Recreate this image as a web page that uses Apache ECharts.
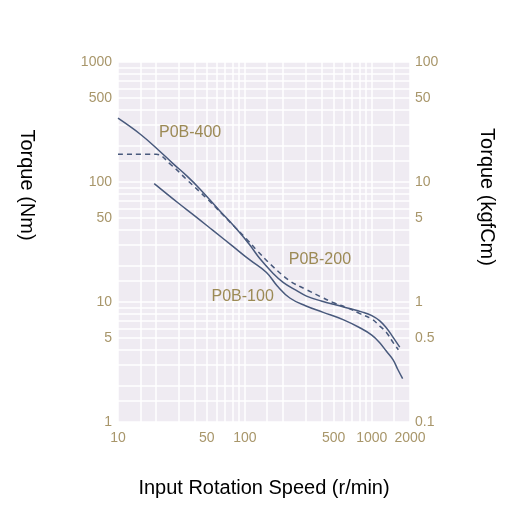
<!DOCTYPE html>
<html><head><meta charset="utf-8">
<script src="https://cdn.jsdelivr.net/npm/echarts@6/dist/echarts.min.js"></script>
<style>html,body{margin:0;padding:0;background:#fff}#c{width:513px;height:509px}</style>
</head><body><div id="c"></div>
<script>
// Axis tick labels
const xTickLabels = [10, 50, 100, 500, 1000, 2000];
const yLeftTickLabels = [1, 5, 10, 50, 100, 500, 1000];
const yRightTickLabels = [0.1, 0.5, 1, 5, 10, 50, 100];
// Grid line positions (log paper)
const xGridValues = [10, 15, 20, 30, 40, 50, 60, 70, 80, 90, 100, 150, 200, 300, 400, 500, 600, 700, 800, 900, 1000, 1500, 2000];
const yGridValues = [1, 1.5, 2, 3, 4, 5, 6, 7, 8, 9, 10, 15, 20, 30, 40, 50, 60, 70, 80, 90, 100, 150, 200, 300, 400, 500, 600, 700, 800, 900, 1000];

// P0B-400 (solid)
const speed400 = [10, 15, 20.8, 27, 35, 44, 63, 86, 109, 131, 167, 200, 250, 306, 400, 600, 855, 1000, 1150, 1300, 1450, 1660];
const torque400 = [340, 250, 185, 143, 112, 88, 58, 40.5, 30, 23, 17.3, 14.6, 12.6, 11.2, 10.2, 9.1, 8.2, 7.7, 7.0, 6.1, 5.2, 4.2];
// P0B-200 (dashed)
const speed200 = [10, 20, 26, 35, 50, 80, 103, 124, 160, 226, 300, 400, 496, 650, 805, 1000, 1156, 1300, 1472, 1620];
const torque200 = [170, 170, 140, 104, 73, 44, 33.5, 27, 20.5, 15, 12.8, 11, 9.9, 8.9, 8.0, 7.2, 6.3, 5.6, 4.6, 4.0];
// P0B-100 (solid)
const speed100 = [19.3, 30, 40, 56, 80, 110, 148, 180, 226, 300, 414, 600, 805, 1000, 1150, 1300, 1472, 1600, 1750];
const torque100 = [97, 66.5, 52.5, 39.5, 29.2, 22.3, 17.6, 13.6, 10.8, 9.3, 8.2, 7.1, 6.1, 5.3, 4.6, 3.9, 3.3, 2.75, 2.3];

// Curve label anchors
const labelNames = ['P0B-400', 'P0B-200', 'P0B-100'];
const labelSpeeds = [37, 390, 96];
const labelTorques = [256, 22.4, 11];

const pairs = (xs, ys) => xs.map((x, i) => [x, ys[i]]);

const lineColor = '#48597C';
const labelColor = '#9C8A55';
const tickColor = '#A8966A';
const tickFont = { color: tickColor, fontSize: 14, fontFamily: '"Liberation Sans Narrow", "Liberation Sans", Arial, sans-serif' };

function mp(i) {
  return {
    symbol: 'circle', symbolSize: 1,
    itemStyle: { color: 'rgba(0,0,0,0)' },
    label: { show: true, position: 'inside', formatter: labelNames[i], color: labelColor, fontSize: 16, fontFamily: '"Liberation Sans", Arial, sans-serif' },
    data: [{ coord: [labelSpeeds[i], labelTorques[i]] }]
  };
}

const chart = echarts.init(document.getElementById('c'), null, { renderer: 'canvas' });
chart.setOption({
  animation: false,
  backgroundColor: '#ffffff',
  grid: { left: 118, right: 103, top: 62, bottom: 87, show: true, backgroundColor: '#EFEBF2', borderWidth: 0 },
  xAxis: {
    type: 'log', min: 10, max: 2000,
    axisLine: { show: false },
    axisTick: { show: false, customValues: xGridValues },
    splitLine: { show: true, lineStyle: { color: '#ffffff', width: 1.5 } },
    axisLabel: Object.assign({ customValues: xTickLabels, margin: 9, formatter: v => String(v) }, tickFont),
    name: 'Input Rotation Speed (r/min)', nameLocation: 'middle', nameGap: 56,
    nameTextStyle: { color: '#000', fontSize: 20, fontFamily: '"Liberation Sans", Arial, sans-serif' }
  },
  yAxis: [{
    type: 'log', min: 1, max: 1000, position: 'left',
    axisLine: { show: false },
    axisTick: { show: false, customValues: yGridValues },
    splitLine: { show: true, lineStyle: { color: '#ffffff', width: 1.5 } },
    axisLabel: Object.assign({ customValues: yLeftTickLabels, margin: 6, formatter: v => String(v) }, tickFont)
  }, {
    type: 'log', min: 0.1, max: 100, position: 'right',
    axisLine: { show: false },
    axisTick: { show: false },
    splitLine: { show: false },
    axisLabel: Object.assign({ customValues: yRightTickLabels, margin: 5, formatter: v => String(Math.round(v * 10) / 10) }, tickFont)
  }],
  graphic: [
    { type: 'text', x: 27, y: 185, rotation: -Math.PI / 2,
      style: { text: 'Torque (Nm)', fill: '#000', fontSize: 20, fontFamily: '"Liberation Sans", Arial, sans-serif', align: 'center', verticalAlign: 'middle' } },
    { type: 'text', x: 487, y: 197, rotation: -Math.PI / 2,
      style: { text: 'Torque (kgfCm)', fill: '#000', fontSize: 20, fontFamily: '"Liberation Sans", Arial, sans-serif', align: 'center', verticalAlign: 'middle' } }
  ],
  series: [
    { name: 'P0B-400', type: 'line', data: pairs(speed400, torque400), showSymbol: false, smooth: 0.4,
      lineStyle: { color: lineColor, width: 1.5 }, markPoint: mp(0), z: 3 },
    { name: 'P0B-200', type: 'line', data: pairs(speed200, torque200), showSymbol: false, smooth: 0.4,
      lineStyle: { color: lineColor, width: 1.5, type: [5, 4] }, markPoint: mp(1), z: 3 },
    { name: 'P0B-100', type: 'line', data: pairs(speed100, torque100), showSymbol: false, smooth: 0.4,
      lineStyle: { color: lineColor, width: 1.5 }, markPoint: mp(2), z: 3 }
  ]
});
</script>
</body></html>
